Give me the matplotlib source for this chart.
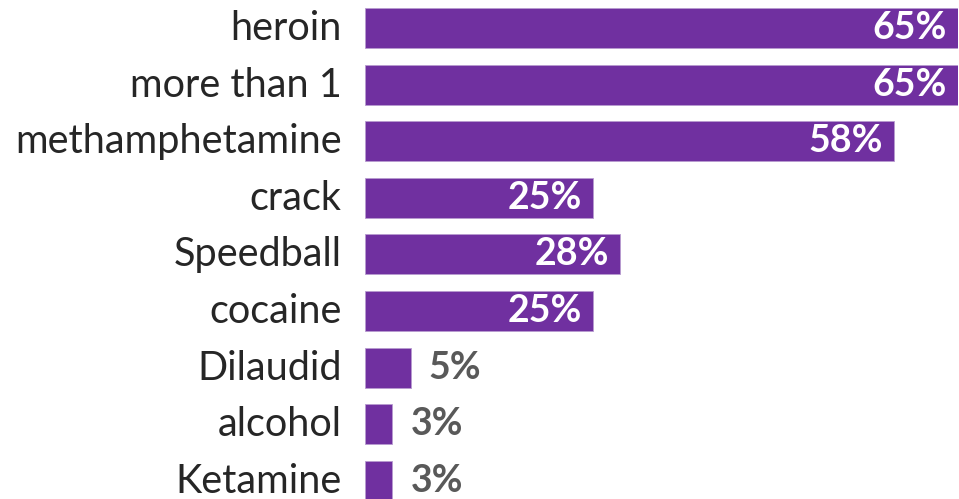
import numpy as np
import matplotlib.pyplot as plt
import matplotlib.transforms as mtransforms

plt.rcParams['font.family'] = ['Lato', 'DejaVu Sans']

drugs = ['heroin', 'more than 1', 'methamphetamine', 'crack', 'Speedball',
         'cocaine', 'Dilaudid', 'alcohol', 'Ketamine']
pct = [65, 65, 58, 25, 28, 25, 5, 3, 3]

purple = '#7030A0'

fig = plt.figure(figsize=(9.59, 4.99), dpi=100)
ax = fig.add_axes([365 / 959, 0, 593 / 959, 1])

y = np.arange(len(drugs))
ax.barh(y, pct, height=0.707, color=purple, edgecolor='#b79bd0', linewidth=0.6)

ax.set_xlim(0, 65)
ax.set_ylim(8.32, -0.495)
ax.set_yticks(y)
ax.set_yticklabels(drugs, fontsize=28.5, color='#262626')
ax.tick_params(axis='y', length=0, pad=17)
ax.set_xticks([])
for s in ax.spines.values():
    s.set_visible(False)

# nudge the category labels up a little so the last one stays inside the figure
shift = mtransforms.ScaledTranslation(0, 3 / 100, fig.dpi_scale_trans)
for lbl in ax.get_yticklabels():
    lbl.set_transform(lbl.get_transform() + shift)

for yi, v in zip(y, pct):
    if v > 10:
        ax.annotate(f'{v}%', (v, yi), xytext=(-8, 0), textcoords='offset points',
                    ha='right', va='center', fontsize=27, fontweight='bold', color='white')
    else:
        ax.annotate(f'{v}%', (v, yi), xytext=(13, 0), textcoords='offset points',
                    ha='left', va='center', fontsize=27, fontweight='bold', color='#595959')

fig.savefig('out.png', dpi=100)
